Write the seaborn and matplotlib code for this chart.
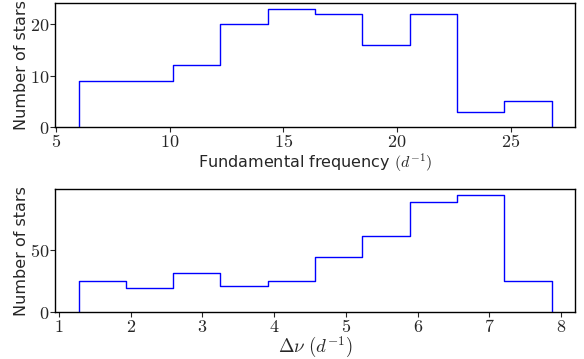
import numpy as np
import pandas as pd
import matplotlib
matplotlib.use("Agg")
import matplotlib.pyplot as plt
import seaborn as sns
from matplotlib.ticker import FuncFormatter

# Fundamental frequency histogram (10 bins)
freq_edges = [6.0, 8.08, 10.16, 12.24, 14.32, 16.4, 18.48, 20.56, 22.64, 24.72, 26.8]
freq_counts = [9, 9, 12, 20, 23, 22, 16, 22, 3, 5]

# Delta nu histogram (10 bins)
dnu_edges = [1.275, 1.934, 2.593, 3.252, 3.911, 4.57, 5.229, 5.888, 6.547, 7.206, 7.866]
dnu_counts = [25, 20, 32, 21, 25, 45, 62, 89, 95, 25]

sns.set_style("ticks")
plt.rcParams["mathtext.fontset"] = "cm"
plt.rcParams["font.family"] = ["DejaVu Sans"]

fig = plt.figure(figsize=(5.84, 3.59), dpi=100)
ax1 = fig.add_axes([0.094, 0.646, 0.891, 0.346])
ax2 = fig.add_axes([0.094, 0.13, 0.891, 0.344])

def centers(e):
    e = np.asarray(e)
    return (e[:-1] + e[1:]) / 2

df1 = pd.DataFrame({"x": centers(freq_edges), "w": freq_counts})
df2 = pd.DataFrame({"x": centers(dnu_edges), "w": dnu_counts})

for ax, df, edges, counts in ((ax1, df1, freq_edges, freq_counts),
                              (ax2, df2, dnu_edges, dnu_counts)):
    sns.histplot(data=df, x="x", weights="w", bins=edges, element="step",
                 fill=False, color="blue", linewidth=1.0, ax=ax)
    # closing vertical edges of a step histogram
    ax.vlines([edges[0], edges[-1]], 0, [counts[0], counts[-1]],
              color="blue", linewidth=1.0)

fmt = FuncFormatter(lambda v, p: r"$%g$" % v)
for ax in (ax1, ax2):
    for s in ax.spines.values():
        s.set_visible(True)
        s.set_color("black")
        s.set_linewidth(1.0)
    ax.xaxis.set_major_formatter(fmt)
    ax.yaxis.set_major_formatter(fmt)
    ax.tick_params(labelsize=13, length=3.5, width=0.8, pad=0.5)
    ax.set_ylabel("Number of stars", fontsize=11.5, labelpad=1)

ax1.set_xticks([5, 10, 15, 20, 25])
ax1.set_yticks([0, 10, 20])
ax1.set_xlabel(r"Fundamental frequency $(d^{-1})$", fontsize=11.5, labelpad=1)

ax2.set_xticks([1, 2, 3, 4, 5, 6, 7, 8])
ax2.set_yticks([0, 50])
ax2.set_xlabel(r"$\Delta\nu\ (d^{-1})$", fontsize=13.5, labelpad=-1)

fig.savefig("out.png", dpi=100)
